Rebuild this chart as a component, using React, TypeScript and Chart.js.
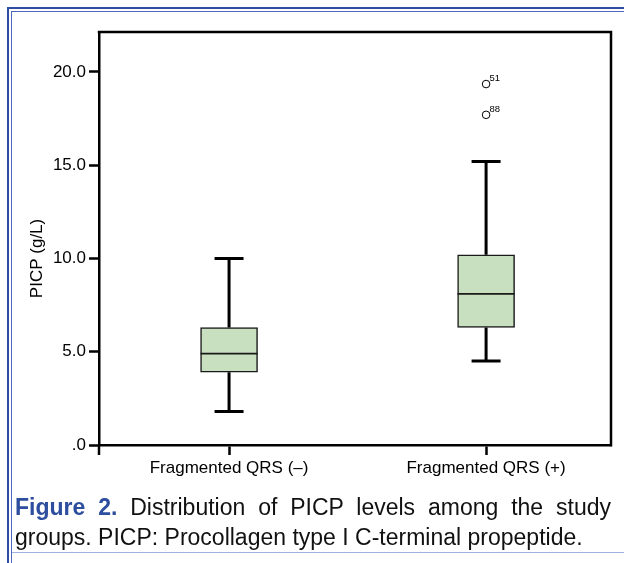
import React, { useEffect, useRef } from "react";
import { Chart, registerables } from "chart.js";

Chart.register(...registerables);

const categories = ["Fragmented QRS (–)", "Fragmented QRS (+)"];
const categoryPos = [1, 2];
const whiskerLow = [1.8, 4.5];
const q1 = [3.9, 6.3];
const median = [4.9, 8.1];
const q3 = [6.3, 10.2];
const whiskerHigh = [10.0, 15.2];
const outlierGroup = [1, 1];
const outlierValues = [19.35, 17.7];
const outlierLabels = ["51", "88"];
const yTicks = [0, 5, 10, 15, 20];
const yMax = 22.14;
const xMin = 0.494;
const xMax = 2.486;
const yTitle = "PICP (g/L)";

const FONT = "'Liberation Sans', Arial, Helvetica, sans-serif";

const boxPlugin = {
  id: "boxExtras",
  afterDatasetsDraw(chart: any) {
    const { ctx, chartArea, scales } = chart;
    const x = scales.x;
    const y = scales.y;
    ctx.save();
    ctx.strokeStyle = "#000";
    ctx.lineCap = "butt";
    const meta = chart.getDatasetMeta(0);
    categories.forEach((_, i) => {
      const cx = x.getPixelForValue(categoryPos[i]);
      const capHalf = 14.5;
      ctx.lineWidth = 3;
      ctx.strokeStyle = "#000";
      ctx.beginPath();
      ctx.moveTo(cx, y.getPixelForValue(q3[i]));
      ctx.lineTo(cx, y.getPixelForValue(whiskerHigh[i]));
      ctx.moveTo(cx, y.getPixelForValue(q1[i]));
      ctx.lineTo(cx, y.getPixelForValue(whiskerLow[i]));
      ctx.stroke();
      ctx.beginPath();
      ctx.moveTo(cx - capHalf, y.getPixelForValue(whiskerHigh[i]));
      ctx.lineTo(cx + capHalf, y.getPixelForValue(whiskerHigh[i]));
      ctx.moveTo(cx - capHalf, y.getPixelForValue(whiskerLow[i]));
      ctx.lineTo(cx + capHalf, y.getPixelForValue(whiskerLow[i]));
      ctx.stroke();
      const bar = meta.data[i];
      const half = bar.width / 2;
      ctx.lineWidth = 1.6;
      ctx.strokeStyle = "#1a1a1a";
      ctx.beginPath();
      ctx.moveTo(cx - half, y.getPixelForValue(median[i]));
      ctx.lineTo(cx + half, y.getPixelForValue(median[i]));
      ctx.stroke();
    });
    ctx.strokeStyle = "#000";
    // outlier labels
    ctx.fillStyle = "#000";
    ctx.font = `9.5px ${FONT}`;
    ctx.textAlign = "left";
    ctx.textBaseline = "alphabetic";
    outlierValues.forEach((v, i) => {
      const px = x.getPixelForValue(categoryPos[outlierGroup[i]]);
      const py = y.getPixelForValue(v);
      ctx.fillText(outlierLabels[i], px + 3.5, py - 3);
    });
    // frame top/right
    ctx.lineWidth = 2.5;
    ctx.beginPath();
    ctx.moveTo(chartArea.left - 1.25, chartArea.top);
    ctx.lineTo(chartArea.right, chartArea.top);
    ctx.lineTo(chartArea.right, chartArea.bottom + 1.25);
    ctx.stroke();
    // left extra tick below axis
    ctx.beginPath();
    ctx.moveTo(chartArea.left, chartArea.bottom);
    ctx.lineTo(chartArea.left, chartArea.bottom + 10);
    ctx.stroke();
    // y title
    ctx.font = `17px ${FONT}`;
    ctx.textAlign = "center";
    ctx.textBaseline = "middle";
    ctx.translate(37, (y.getPixelForValue(0) + y.getPixelForValue(20)) / 2);
    ctx.rotate(-Math.PI / 2);
    ctx.fillText(yTitle, 0, 0);
    ctx.restore();
  },
};

export default function App() {
  const ref = useRef<HTMLCanvasElement>(null);
  useEffect(() => {
    if (!ref.current) return;
    const chart = new Chart(ref.current, {
      type: "bar",
      data: {
        datasets: [
          {
            type: "bar",
            data: categories.map((_, i) => ({ x: categoryPos[i], y: [q1[i], q3[i]] })) as any,
            backgroundColor: "rgb(200,223,192)",
            borderColor: "#1a1a1a",
            borderWidth: 1.5,
            borderSkipped: false,
            barThickness: 57,
          } as any,
          {
            type: "scatter",
            data: outlierValues.map((v, i) => ({ x: categoryPos[outlierGroup[i]], y: v })) as any,
            pointStyle: "circle",
            pointRadius: 3.8,
            pointBackgroundColor: "#fff",
            pointBorderColor: "#000",
            pointBorderWidth: 1,
          } as any,
        ],
      },
      options: {
        animation: false,
        responsive: false,
        devicePixelRatio: 1,
        layout: { padding: { top: 32, right: 13, left: 0, bottom: 0 } },
        plugins: { legend: { display: false }, tooltip: { enabled: false } },
        scales: {
          x: {
            type: "linear",
            min: xMin,
            max: xMax,
            offset: false,
            afterBuildTicks: (s: any) => {
              s.ticks = categoryPos.map((v) => ({ value: v }));
            },
            grid: {
              display: true,
              offset: false,
              drawOnChartArea: false,
              drawTicks: true,
              tickLength: 10,
              tickWidth: 2.5,
              tickColor: "#000",
            },
            border: { display: true, color: "#000", width: 2.5 },
            ticks: {
              color: "#000",
              font: { size: 17, family: FONT },
              padding: 3,
              maxRotation: 0,
              autoSkip: false,
              callback: (v: any) => categories[categoryPos.indexOf(Number(v))] ?? "",
            },
            afterFit: (s: any) => {
              s.height = 55;
            },
          },
          y: {
            type: "linear",
            min: 0,
            max: yMax,
            afterBuildTicks: (s: any) => {
              s.ticks = yTicks.map((v) => ({ value: v }));
            },
            grid: {
              display: true,
              offset: false,
              drawOnChartArea: false,
              drawTicks: true,
              tickLength: 10,
              tickWidth: 2.5,
              tickColor: "#000",
            },
            border: { display: true, color: "#000", width: 2.5 },
            ticks: {
              color: "#000",
              font: { size: 17, family: FONT },
              padding: 3,
              callback: (v: any) => (Number(v) === 0 ? ".0" : Number(v).toFixed(1)),
            },
            afterFit: (s: any) => {
              s.width = 99;
            },
          },
        },
      } as any,
      plugins: [boxPlugin],
    });
    return () => chart.destroy();
  }, []);

  return (
    <div
      style={{
        position: "fixed",
        left: 0,
        top: 0,
        width: 624,
        height: 563,
        background: "#fff",
        overflow: "hidden",
      }}
    >
      <div
        style={{
          position: "absolute",
          left: 7,
          top: 7,
          width: 640,
          height: 556,
          borderTop: "2px solid #2f4ea3",
          borderLeft: "2px solid #2f4ea3",
          boxSizing: "border-box",
        }}
      />
      <div
        style={{
          position: "absolute",
          left: 11,
          top: 11,
          width: 640,
          height: 552,
          borderTop: "1.5px solid #4a68b8",
          borderLeft: "1.5px solid #4a68b8",
          boxSizing: "border-box",
        }}
      />
      <div
        style={{
          position: "absolute",
          left: 12,
          top: 552,
          width: 612,
          height: 0,
          borderTop: "1px solid #9fb1df",
        }}
      />
      <canvas
        ref={ref}
        width={624}
        height={500}
        style={{ position: "absolute", left: 0, top: 0, width: 624, height: 500 }}
      />
      <div
        style={{
          position: "absolute",
          left: 15,
          top: 492,
          width: 596,
          fontFamily: FONT,
          fontSize: 23,
          lineHeight: "30px",
          textAlign: "justify",
          color: "#111",
        }}
      >
        <span style={{ color: "#2d4e9e", fontWeight: "bold" }}>Figure 2.</span> Distribution of PICP
        levels among the study groups. PICP: Procollagen type I C-terminal propeptide.
      </div>
    </div>
  );
}
